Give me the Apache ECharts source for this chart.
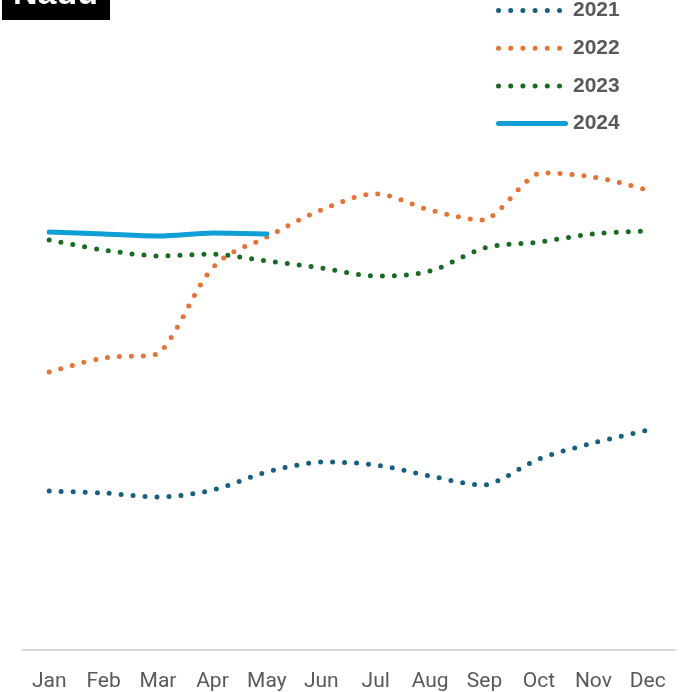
<!DOCTYPE html>
<html>
<head>
<meta charset="utf-8">
<script src="https://cdn.jsdelivr.net/npm/echarts@6/dist/echarts.min.js"></script>
<style>
  html, body { margin: 0; padding: 0; background: #fff; }
  #main { width: 687px; height: 692px; }
</style>
</head>
<body>
<div id="main"></div>
<script>
// months on the x axis
const months = ['Jan', 'Feb', 'Mar', 'Apr', 'May', 'Jun', 'Jul', 'Aug', 'Sep', 'Oct', 'Nov', 'Dec'];
const years = ['2021', '2022', '2023', '2024'];
// values (no y axis shown, relative units)
const v2021 = [159, 157, 153, 160, 178, 188, 185, 174, 165, 191, 207, 220];
const v2022 = [278, 292, 296, 382, 413, 440, 456, 440, 430, 477, 473, 460];
const v2023 = [410, 400, 394, 396, 389, 382, 374, 379, 402, 408, 416, 419];
const v2024 = [418, 416, 414, 417, 416];
const colors = ['#156082', '#E97132', '#196B24', '#0F9ED5'];

// legend icons: six round dots / a rounded bar, 72 wide
let dotsIcon = 'path://';
for (let k = 0; k < 6; k++) {
  const x = k * 12.2;
  dotsIcon += 'M' + x + ',2.5a2.5,2.5 0 1,0 5,0a2.5,2.5 0 1,0 -5,0Z';
}
dotsIcon += 'M72,2.5L72,2.5';
const barIcon = 'path://M2.5,0H69.5A2.5,2.5 0 0 1 69.5,5H2.5A2.5,2.5 0 0 1 2.5,0Z';

// excel-like smoothing: catmull-rom bezier, control points kept inside each segment's y range
function clampY(c, a, b) {
  return [c[0], Math.min(Math.max(c[1], Math.min(a[1], b[1])), Math.max(a[1], b[1]))];
}
function smoothPath(pts) {
  let d = 'M' + pts[0][0] + ',' + pts[0][1];
  for (let i = 0; i < pts.length - 1; i++) {
    const p0 = pts[i - 1] || pts[i], p1 = pts[i], p2 = pts[i + 1], p3 = pts[i + 2] || p2;
    const c1 = clampY([p1[0] + (p2[0] - p0[0]) / 6, p1[1] + (p2[1] - p0[1]) / 6], p1, p2);
    const c2 = clampY([p2[0] - (p3[0] - p1[0]) / 6, p2[1] - (p3[1] - p1[1]) / 6], p1, p2);
    d += 'C' + c1 + ',' + c2 + ',' + p2;
  }
  return d;
}

function curve(name, values, color, dash) {
  return {
    name: name,
    type: 'custom',
    data: values.map((v, i) => [i, v]),
    encode: { x: 0, y: 1 },
    itemStyle: { color: color },
    renderItem: function (params, api) {
      if (params.dataIndex !== 0) return null;
      const pts = values.map((v, i) => api.coord([i, v]));
      return {
        type: 'path',
        shape: { pathData: smoothPath(pts) },
        style: { fill: 'none', stroke: color, lineWidth: 5, lineDash: dash, lineCap: 'round', lineJoin: 'round' }
      };
    }
  };
}

const chart = echarts.init(document.getElementById('main'));

chart.setOption({
  animation: false,
  graphic: [
    { type: 'rect', left: 2, top: 0, shape: { width: 108, height: 20 }, style: { fill: '#000' } },
    {
      type: 'text', x: 13, y: 12,
      style: { text: 'Nadu', fill: '#fff', font: 'bold 34px "Liberation Sans", Arial', verticalAlign: 'bottom' }
    }
  ],
  legend: {
    orient: 'vertical',
    left: 491,
    top: -5,
    itemWidth: 72,
    itemHeight: 14,
    itemGap: 16.7,
    data: [
      { name: '2021', icon: dotsIcon },
      { name: '2022', icon: dotsIcon },
      { name: '2023', icon: dotsIcon },
      { name: '2024', icon: barIcon }
    ],
    textStyle: { color: '#595959', fontSize: 21, fontWeight: 'bold', fontFamily: '"Liberation Sans", Arial' }
  },
  grid: { left: 22, right: 12, top: 150, bottom: 42 },
  xAxis: {
    type: 'category',
    data: months,
    boundaryGap: true,
    axisLine: { lineStyle: { color: '#D9D9D9', width: 2 } },
    axisTick: { show: false },
    axisLabel: { color: '#595959', fontSize: 21, margin: 21, fontFamily: 'Roboto', interval: 0 }
  },
  yAxis: {
    type: 'value',
    min: 0,
    max: 500,
    show: false,
    splitLine: { show: false }
  },
  series: [
    curve('2021', v2021, colors[0], [0, 12]),
    curve('2022', v2022, colors[1], [0, 12]),
    curve('2023', v2023, colors[2], [0, 12]),
    curve('2024', v2024, colors[3], null)
  ]
});
</script>
</body>
</html>
